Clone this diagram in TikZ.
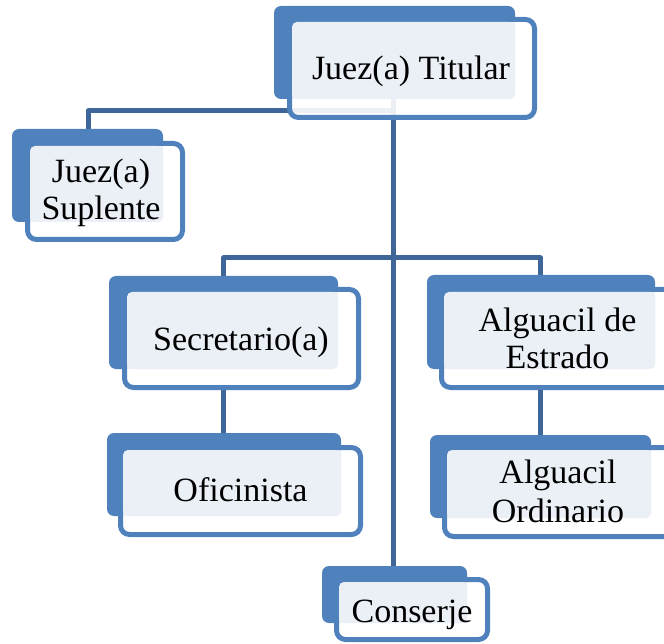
\documentclass[tikz,border=0pt]{standalone}
\usepackage{fontspec}
\setmainfont{Liberation Serif}
\definecolor{boxblue}{HTML}{4F81BD}
\definecolor{linkblue}{HTML}{3F6699}
\definecolor{lightfill}{HTML}{EBF0F7}
\tikzset{
  backbox/.style={fill=boxblue, rounded corners=7pt},
  frontbox/.style={draw=boxblue, line width=5pt, fill=white, fill opacity=0.9, rounded corners=9pt},
  lightbox/.style={fill=lightfill, rounded corners=5pt},
  lbl/.style={font=\fontsize{34}{37}\selectfont, align=center, text=black, inner sep=0pt, anchor=base},
  conn/.style={draw=linkblue, line width=5pt, line join=round}
}
% #1 bl, #2 bt, #3 br, #4 bb, #5 fl, #6 ft, #7 fr, #8 fb
\newcommand\orgshapes[8]{%
  \fill[backbox] (#1,#2) rectangle (#3,#4);
  \path[frontbox] (#5+2.5,#6+2.5) rectangle (#7-2.5,#8-2.5);
  \fill[lightbox] (#5+5,#6+5) rectangle (#3,#4);
}
\begin{document}
\begin{tikzpicture}[x=1pt,y=-1pt]
\useasboundingbox (0,0) rectangle (664,644);
\clip (0,0) rectangle (664,644);
% connector coordinates
\coordinate (titB) at (393.5,99);
\coordinate (conT) at (393.5,566);
\coordinate (j1) at (393.5,111);
\coordinate (supT) at (88,129);
\coordinate (j2) at (393.5,258);
\coordinate (secT) at (223.5,276);
\coordinate (algT) at (540.5,275);
\coordinate (secB) at (223.5,390);
\coordinate (ofiT) at (223.5,433);
\coordinate (algB) at (540.5,390);
\coordinate (ordT) at (540.5,435);
% connectors
\draw[conn] (titB) -- (conT);
\draw[conn] (j1) -| (supT);
\draw[conn] (secT) |- (j2) -| (algT);
\draw[conn] (secB) -- (ofiT);
\draw[conn] (algB) -- (ordT);
% boxes
\orgshapes{274}{6}{515}{99}{287}{17}{537}{120}
\orgshapes{12}{129}{163}{222}{25}{141}{185}{242}
\orgshapes{109}{276}{338}{369}{122}{287}{361}{390}
\orgshapes{427}{275}{655}{369}{439}{287}{678}{390}
\orgshapes{107}{433}{341}{516}{118}{445}{363}{537}
\orgshapes{430}{435}{651}{518}{442}{445}{680}{539}
\orgshapes{322}{566}{467}{623}{334}{577}{490}{642}
% labels
\node[lbl] (tit) at (411,80) {Juez(a) Titular};
\node[lbl] (sup) at (101,220) {Juez(a)\\Suplente};
\node[lbl] (sec) at (241,350) {Secretario(a)};
\node[lbl] (alg) at (557.5,368) {Alguacil de\\Estrado};
\node[lbl] (ofi) at (240.5,501) {Oficinista};
\node[lbl] (ord) at (558,522) {Alguacil\\[2pt]Ordinario};
\node[lbl] (con) at (412,622) {Conserje};
\end{tikzpicture}
\end{document}
